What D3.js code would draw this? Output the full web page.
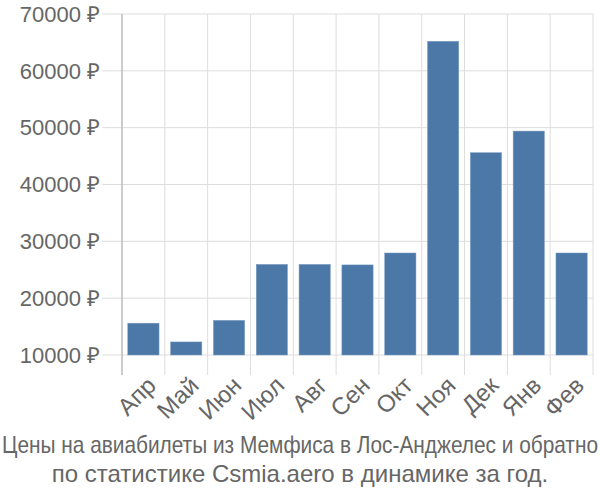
<!DOCTYPE html>
<html><head><meta charset="utf-8">
<script src="https://cdn.jsdelivr.net/npm/d3@7"></script>
<style>body{margin:0;background:#fff}svg{display:block}</style>
</head><body>
<svg id="c" width="600" height="500"></svg>
<script>
const months = ["Апр","Май","Июн","Июл","Авг","Сен","Окт","Ноя","Дек","Янв","Фев"];
const prices = [15600,12300,16100,25950,25950,25850,27950,65200,45600,49400,27950];
const yTicks = [10000,20000,30000,40000,50000,60000,70000];
const titleLines = ["Цены на авиабилеты из Мемфиса в Лос-Анджелес и обратно","по статистике Csmia.aero в динамике за год."];

const svg = d3.select("#c");
const font = "'Liberation Sans', Arial, sans-serif";
const L = 122, R = 593, T = 14, B = 355;
const x = d3.scaleBand().domain(months).range([L, R]).paddingInner(0.27).paddingOuter(0.135);
const xg = d3.scaleBand().domain(months).range([L, R]);
const y = d3.scaleLinear().domain([10000,70000]).range([B, T]);

svg.append("g").selectAll("line").data(yTicks).join("line")
  .attr("x1", 102).attr("x2", R).attr("y1", d=>y(d)).attr("y2", d=>y(d))
  .attr("stroke", "#ddd").attr("stroke-width", 1);
const vx = months.map(m=>xg(m)).concat([R]);
svg.append("g").selectAll("line").data(vx).join("line")
  .attr("x1", d=>d).attr("x2", d=>d).attr("y1", T).attr("y2", 375)
  .attr("stroke", "#ddd").attr("stroke-width", 1);
svg.append("line").attr("x1", L).attr("x2", L).attr("y1", T).attr("y2", 375)
  .attr("stroke", "#aaa").attr("stroke-width", 1);

svg.append("g").selectAll("rect").data(prices).join("rect")
  .attr("x", (d,i)=>x(months[i])).attr("width", x.bandwidth())
  .attr("y", d=>y(d)).attr("height", d=>B - y(d))
  .attr("fill", "#4c78a8").attr("stroke", "#7f9fc4").attr("stroke-width", 0.5);

svg.append("g").selectAll("text").data(yTicks).join("text")
  .attr("x", 100).attr("y", d=>y(d)).attr("dy", "0.35em")
  .attr("text-anchor", "end").attr("font-family", font).attr("font-size", 22)
  .attr("fill", "#666").text(d=>d + " ₽");

svg.append("g").selectAll("text").data(months).join("text")
  .attr("transform", m=>`translate(${xg(m)+xg.bandwidth()/2+8},${381}) rotate(-45)`)
  .attr("text-anchor", "end").attr("dy", "0.35em").attr("font-family", font).attr("font-size", 24)
  .attr("fill", "#666").text(m=>m);

svg.append("text").attr("x", 2).attr("y", 453).attr("textLength", 596).attr("lengthAdjust", "spacingAndGlyphs")
  .attr("font-family", font).attr("font-size", 24).attr("fill", "#666").text(titleLines[0]);
svg.append("text").attr("x", 300).attr("y", 482).attr("text-anchor", "middle")
  .attr("font-family", font).attr("font-size", 24).attr("fill", "#666").text(titleLines[1]);
</script>
</body></html>
